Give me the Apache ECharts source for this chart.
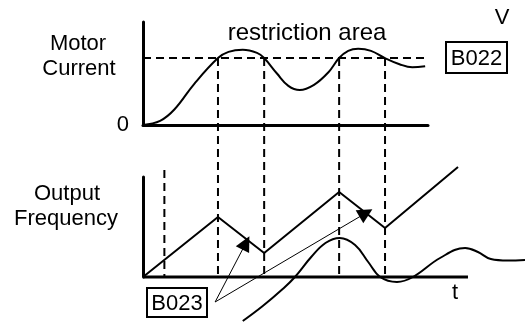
<!DOCTYPE html>
<html>
<head>
<meta charset="utf-8">
<script src="https://cdn.jsdelivr.net/npm/echarts@6/dist/echarts.min.js"></script>
<style>html,body{margin:0;padding:0;background:#fff}#c{width:525px;height:323px}</style>
</head>
<body>
<div id="c"></div>
<script>
// ---- data (time in arbitrary units, values normalised 0..10) ----
const currentT = [0, 0.6, 1.1, 1.8, 2.63, 3.0, 3.5, 4.0, 4.25, 4.7, 5.1, 5.5, 6.0, 6.5, 6.88, 7.2, 7.55, 8.0, 8.49, 9.0, 9.45, 9.9];
const currentV = [0, 0.4, 1.5, 4.0, 6.5, 7.1, 7.3, 7.0, 6.5, 5.0, 3.8, 3.4, 3.9, 5.1, 6.5, 7.2, 7.4, 7.2, 6.5, 5.9, 5.6, 5.7];
const limitB022 = 6.5;
const limitEndT = 10.3;
const freqT = [0, 2.63, 4.25, 6.88, 8.49, 11.05];
const freqV = [0, 6.0, 2.4, 8.5, 4.9, 11.0];
const waveT = [3.5, 4.2, 4.9, 5.33, 5.9, 6.4, 6.9, 7.44, 7.9, 8.32, 8.91, 9.47, 10.42, 11.3, 11.75, 12.2, 12.8, 13.4];
const waveV = [-4.4, -2.9, -1.2, 0, 2.0, 3.4, 3.9, 3.2, 1.5, 0, -0.5, 0, 1.9, 2.9, 2.5, 1.8, 1.65, 1.7];
const crossT = [2.63, 4.25, 6.88, 8.49];
const crossTopV = 21.9;     // B022 level expressed on the frequency panel scale
const accelMarkT = 0.75;
const accelMarkTopV = 10.7;
const arrowFrom = [2.53, -2.5];
const arrowTo = [[3.61, 3.4], [7.82, 6.4]];
const topXMax = 10, bottomAxisEnd = 11.4, bottomXMax = 13.4, yMax = 10;

const pairs = (xs, ys) => xs.map((x, i) => [x, ys[i]]);
const FONT = 'Liberation Sans, Arial, Helvetica, sans-serif';
const axisLine = { show: true, lineStyle: { color: '#000', width: 3 } };
const plainX = (idx, max, showLine) => ({ type: 'value', gridIndex: idx, min: 0, max: max, axisLine: showLine ? axisLine : { show: false }, axisTick: { show: false }, axisLabel: { show: false }, splitLine: { show: false } });

const dashed = { color: '#000', width: 2, type: [8, 5] };
const series = [];
series.push({ type: 'line', xAxisIndex: 0, yAxisIndex: 0, data: [[0, limitB022], [limitEndT, limitB022]], symbol: 'none', clip: false, lineStyle: dashed, z: 2 });
series.push({ type: 'line', xAxisIndex: 0, yAxisIndex: 0, data: pairs(currentT, currentV), symbol: 'none', smooth: 0.4, clip: false, lineStyle: { color: '#000', width: 2 }, z: 3 });
crossT.forEach(t => series.push({ type: 'line', xAxisIndex: 1, yAxisIndex: 1, data: [[t, crossTopV], [t, 0]], symbol: 'none', clip: false, lineStyle: dashed, z: 2 }));
series.push({ type: 'line', xAxisIndex: 1, yAxisIndex: 1, data: [[accelMarkT, accelMarkTopV], [accelMarkT, 0]], symbol: 'none', clip: false, lineStyle: dashed, z: 2 });
// time axis of the frequency panel (shorter than the panel, the current wave runs past it)
series.push({ type: 'line', xAxisIndex: 1, yAxisIndex: 1, data: [[0, 0], [bottomAxisEnd, 0]], symbol: 'none', clip: false, lineStyle: { color: '#000', width: 3, cap: 'butt' }, z: 5 });
series.push({ type: 'line', xAxisIndex: 1, yAxisIndex: 1, data: pairs(freqT, freqV), symbol: 'none', clip: false, lineStyle: { color: '#000', width: 2 }, z: 3 });
series.push({ type: 'line', xAxisIndex: 1, yAxisIndex: 1, data: pairs(waveT, waveV), symbol: 'none', smooth: 0.4, clip: false, lineStyle: { color: '#000', width: 2 }, z: 3 });
series.push({ type: 'lines', coordinateSystem: 'cartesian2d', xAxisIndex: 1, yAxisIndex: 1, clip: false,
  symbol: ['none', 'triangle'], symbolSize: 15,
  lineStyle: { color: '#000', width: 1, opacity: 1 }, itemStyle: { color: '#000' },
  data: arrowTo.map(p => ({ coords: [arrowFrom, p] })), z: 4 });

const txt = (text, x, y, size) => ({ type: 'text', z: 10, style: { text: text, x: x, y: y, fill: '#000', font: (size || 22) + 'px ' + FONT, align: 'center', verticalAlign: 'middle' } });
const box = (text, cx, cy, w, h) => ({ type: 'group', z: 10, children: [
  { type: 'rect', shape: { x: cx - w / 2, y: cy - h / 2, width: w, height: h }, style: { fill: '#fff', stroke: '#000', lineWidth: 2 } },
  txt(text, cx, cy + 1, 22)
]});

const chart = echarts.init(document.getElementById('c'), null, { renderer: 'canvas' });
chart.setOption({
  animation: false,
  backgroundColor: '#fff',
  grid: [
    { left: 143, top: 22, width: 285, height: 103 },
    { left: 143, top: 177, width: 382, height: 100 }
  ],
  xAxis: [plainX(0, topXMax, true), plainX(1, bottomXMax, false)],
  yAxis: [
    { type: 'value', gridIndex: 0, min: 0, max: yMax, interval: yMax, axisLine: axisLine, axisTick: { show: false }, splitLine: { show: false },
      axisLabel: { show: true, color: '#000', fontSize: 22, fontFamily: FONT, margin: 14, formatter: v => v === 0 ? '0' : '' } },
    { type: 'value', gridIndex: 1, min: 0, max: yMax, axisLine: axisLine, axisTick: { show: false }, axisLabel: { show: false }, splitLine: { show: false } }
  ],
  series: series,
  graphic: [
    txt('Motor', 78, 44), txt('Current', 79, 69),
    txt('Output', 67, 194), txt('Frequency', 66, 219),
    txt('restriction area', 307, 33, 24),
    txt('V', 502, 18),
    txt('t', 455, 293),
    box('B022', 476.5, 57.5, 61, 31),
    box('B023', 177, 302.5, 60, 29)
  ]
});
</script>
</body>
</html>
